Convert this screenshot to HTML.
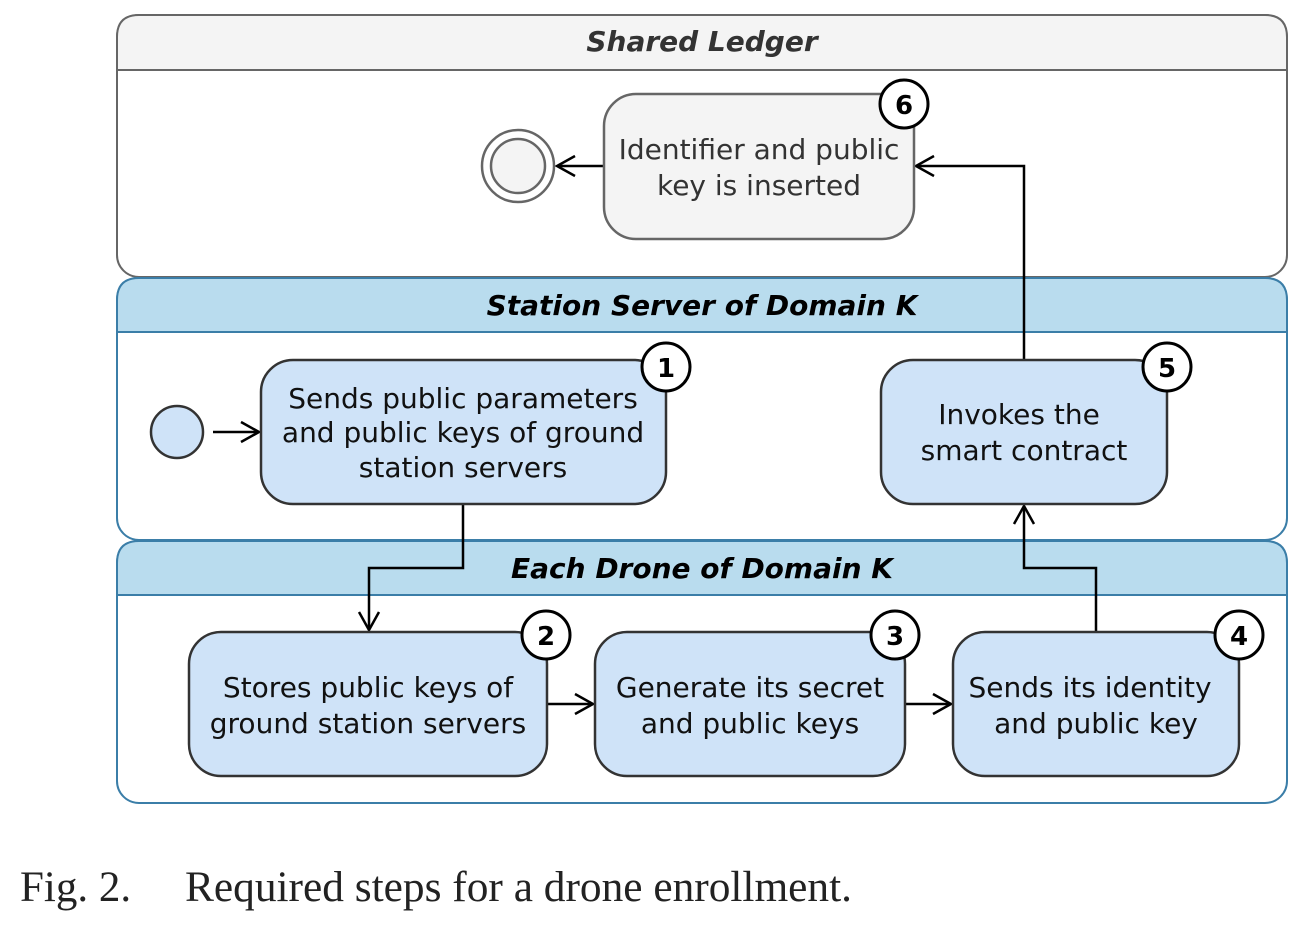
<!DOCTYPE html>
<html><head><style>body{margin:0;background:#fff}svg{display:block}</style></head><body>
<svg width="1308" height="926" viewBox="0 0 1308 926" xmlns="http://www.w3.org/2000/svg">
<defs>
<marker id="a" markerWidth="24" markerHeight="26" refX="20" refY="13" orient="auto" markerUnits="userSpaceOnUse">
<path d="M2,3 L20,13 L2,23" fill="none" stroke="#000" stroke-width="2.5"/></marker>
</defs>
<g font-family="DejaVu Sans, Verdana, sans-serif">
<rect x="117" y="15" width="1170" height="262" rx="22" fill="#fff" stroke="#666" stroke-width="2"/>
<path d="M117,70 V37 Q117,15 139,15 H1265 Q1287,15 1287,37 V70 Z" fill="#f4f4f4" stroke="#666" stroke-width="2"/>
<text x="702" y="51" text-anchor="middle" font-size="28" font-weight="bold" font-style="italic" fill="#333">Shared Ledger</text>
<rect x="117" y="278" width="1170" height="262" rx="22" fill="#fff" stroke="#3b7ea8" stroke-width="2"/>
<path d="M117,332 V300 Q117,278 139,278 H1265 Q1287,278 1287,300 V332 Z" fill="#b9dcee" stroke="#3b7ea8" stroke-width="2"/>
<text x="702" y="315" text-anchor="middle" font-size="28" font-weight="bold" font-style="italic" fill="#000">Station Server of Domain K</text>
<rect x="117" y="541" width="1170" height="262" rx="22" fill="#fff" stroke="#3b7ea8" stroke-width="2"/>
<path d="M117,595 V563 Q117,541 139,541 H1265 Q1287,541 1287,563 V595 Z" fill="#b9dcee" stroke="#3b7ea8" stroke-width="2"/>
<text x="702" y="578" text-anchor="middle" font-size="28" font-weight="bold" font-style="italic" fill="#000">Each Drone of Domain K</text>

<g stroke="#000" stroke-width="2.5" fill="none">
<line x1="604" y1="166" x2="557" y2="166" marker-end="url(#a)"/>
<polyline points="1024,360 1024,166 916,166" marker-end="url(#a)"/>
<line x1="213" y1="432" x2="259" y2="432" marker-end="url(#a)"/>
<polyline points="463,504 463,568 369,568 369,630" marker-end="url(#a)"/>
<line x1="547" y1="704" x2="593" y2="704" marker-end="url(#a)"/>
<line x1="905" y1="704" x2="951" y2="704" marker-end="url(#a)"/>
<polyline points="1096,632 1096,568 1024,568 1024,506" marker-end="url(#a)"/>
</g>

<circle cx="518" cy="166" r="36" fill="#fff" stroke="#666" stroke-width="2.5"/>
<circle cx="518" cy="166" r="27" fill="#f4f4f4" stroke="#666" stroke-width="2.5"/>
<circle cx="177" cy="432" r="26" fill="#cfe3f8" stroke="#333" stroke-width="2.5"/>

<rect x="604" y="94" width="310" height="145" rx="32" fill="#f4f4f4" stroke="#666" stroke-width="2.5"/>
<g font-size="28" fill="#333" text-anchor="middle">
<text x="759" y="159">Identifier and public</text>
<text x="759" y="195">key is inserted</text>
</g>
<g fill="#cfe3f8" stroke="#333" stroke-width="2.5">
<rect x="261" y="360" width="405" height="144" rx="32"/>
<rect x="881" y="360" width="286" height="144" rx="32"/>
<rect x="189" y="632" width="358" height="144" rx="32"/>
<rect x="595" y="632" width="310" height="144" rx="32"/>
<rect x="953" y="632" width="286" height="144" rx="32"/>
</g>
<g font-size="28" fill="#111" text-anchor="middle">
<text x="463" y="408">Sends public parameters</text>
<text x="463" y="442">and public keys of ground</text>
<text x="463" y="477">station servers</text>
<text x="1019" y="424">Invokes the</text>
<text x="1024" y="460">smart contract</text>
<text x="368" y="697">Stores public keys of</text>
<text x="368" y="733">ground station servers</text>
<text x="750" y="697">Generate its secret</text>
<text x="750" y="733">and public keys</text>
<text x="1090" y="697">Sends its identity</text>
<text x="1096" y="733">and public key</text>
</g>
<g fill="#fff" stroke="#000" stroke-width="3">
<circle cx="904" cy="104" r="24"/>
<circle cx="666" cy="367" r="24"/>
<circle cx="1167" cy="367" r="24"/>
<circle cx="546" cy="635" r="24"/>
<circle cx="895" cy="635" r="24"/>
<circle cx="1239" cy="635" r="24"/>
</g>
<g font-size="26" font-weight="bold" text-anchor="middle" fill="#000">
<text x="904" y="114">6</text>
<text x="666" y="377">1</text>
<text x="1167" y="377">5</text>
<text x="546" y="645">2</text>
<text x="895" y="645">3</text>
<text x="1239" y="645">4</text>
</g>
</g>
<g font-family="Liberation Serif, serif" font-size="43" fill="#222">
<text x="20" y="901">Fig. 2.</text>
<text x="185" y="901" textLength="667" lengthAdjust="spacingAndGlyphs">Required steps for a drone enrollment.</text>
</g>
</svg>
</body></html>
